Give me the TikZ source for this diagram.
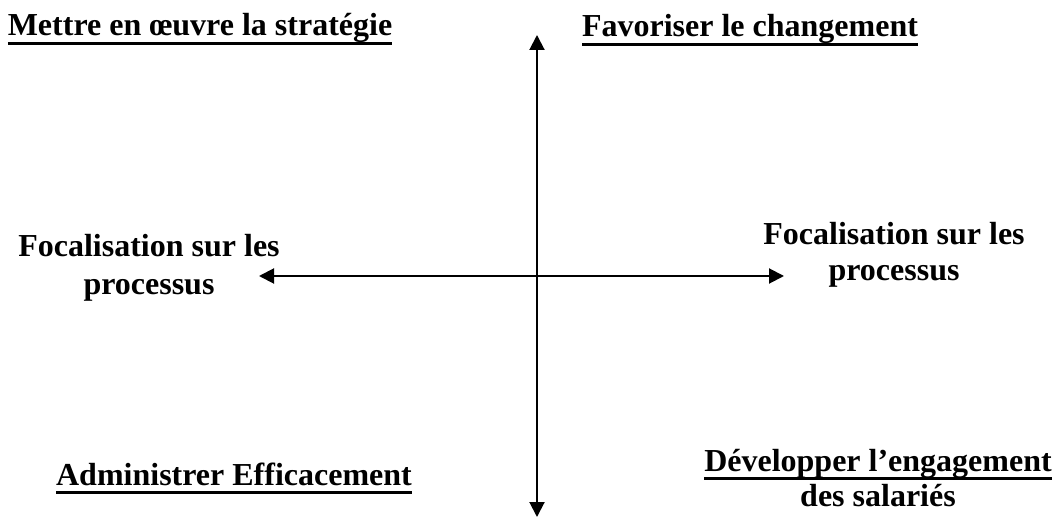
\documentclass[tikz,border=0pt]{standalone}
\usepackage{fontspec}
\setmainfont{Liberation Serif}
\usetikzlibrary{arrows.meta,positioning}

% thick underline below the baseline
\newcommand\ulined[1]{\setbox0\hbox{#1}\rlap{\rule[-9pt]{\wd0}{3pt}}\box0}

\begin{document}
\begin{tikzpicture}[x=1pt, y=-1pt,
                axis/.style={{Triangle[length=15pt,width=15pt]}-{Triangle[length=15pt,width=15pt]}, line width=2pt},
                txt/.style={inner sep=0pt, align=center, anchor=base,
                  font=\fontsize{32}{37}\selectfont\bfseries}]

  \useasboundingbox (0,0) rectangle (1062,518);

  % axes
  \coordinate (top) at (537,35);
  \coordinate (bottom) at (537,517);
  \coordinate (left) at (259,276);
  \coordinate (right) at (784,276);

  \draw[axis] (top) -- (bottom);
  \draw[axis] (left) -- (right);

  % quadrants (base = last line)
  \node[txt] (strat) at (200,36) {\ulined{Mettre en œuvre la stratégie}};
  \node[txt] (chgt) at (750,37) {\ulined{Favoriser le changement}};
  \node[txt] (admin) at (234,485) {\ulined{Administrer Efficacement}};
  \node[txt, font=\fontsize{32}{35}\selectfont\bfseries] (engag) at (878,506)
    {\ulined{Développer l’engagement}\\des salariés};

  % ends of the horizontal axis
  \node[txt, font=\fontsize{32}{38}\selectfont\bfseries] (procg) at (149,295)
    {Focalisation sur les\\processus};
  \node[txt, font=\fontsize{32}{36}\selectfont\bfseries] (procd) at (894,281)
    {Focalisation sur les\\processus};
\end{tikzpicture}
\end{document}
